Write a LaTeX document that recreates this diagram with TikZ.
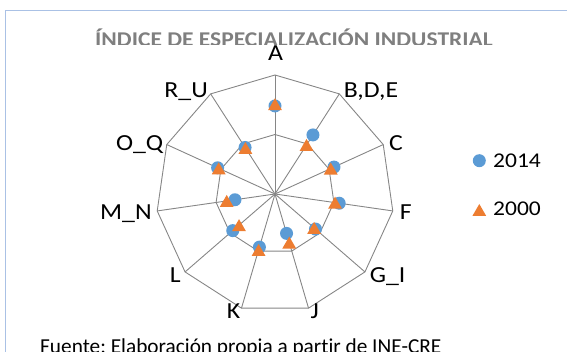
\documentclass[tikz,border=0pt]{standalone}
\usepackage{fontspec}
\setmainfont{Carlito}[FakeStretch=1.12, Ligatures=NoCommon]
\newfontfamily\srcfont{Carlito}[Ligatures=NoCommon]
\usetikzlibrary{positioning,shapes.geometric}
\definecolor{gridgray}{RGB}{134,134,134}
\definecolor{ser14}{RGB}{91,155,213}
\definecolor{ser00}{RGB}{237,125,49}
\definecolor{framebl}{RGB}{170,193,229}
\definecolor{titlegray}{RGB}{127,127,127}
\tikzset{axislab/.style = {font=\fontsize{23}{23}\selectfont, inner sep=0pt},
         leglab/.style = {font=\fontsize{21}{21}\selectfont, inner sep=0pt},
         dot14/.style = {circle, fill=ser14, inner sep=0pt, minimum size=13pt},
         tri00/.style = {regular polygon, regular polygon sides=3, fill=ser00,
                         inner sep=0pt, minimum size=16pt, yshift=-2pt},
         gridline/.style = {gridgray, line width=0.9pt}}
\frenchspacing

\begin{document}
\begin{tikzpicture}[x=1pt,y=1pt]
    \useasboundingbox (-275,-158) rectangle (292,194);
    % chart frame
    \draw[framebl, line width=1.6pt] (-269.5,-175) |- (310,183.3);
    % title, cut by the plot area
    \begin{scope}
        \clip (-275,149) rectangle (292,194);
        \node[font=\bfseries\fontsize{21}{21}\selectfont, text=titlegray, anchor=base, inner sep=0pt]
            (title) at (19,147) {ÍNDICE DE ESPECIALIZACIÓN INDUSTRIAL};
    \end{scope}
    % grid
    \coordinate (c) at (0,0);
    \foreach \k in {0,...,10}{
        \coordinate (o\k) at ({90-\k*360/11}:119);
        \coordinate (i\k) at ({90-\k*360/11}:59.5);
    }
    \draw[gridline] (o0) \foreach \k in {1,...,10}{ -- (o\k)} -- cycle;
    \draw[gridline] (i0) \foreach \k in {1,...,10}{ -- (i\k)} -- cycle;
    \foreach \k in {0,...,10}
        \draw[gridline] (c) -- (o\k);
    % axis labels
    \node[axislab, anchor=base]      (lA)  at (0.6,133.3)   {A};
    \node[axislab, anchor=base west] (lB)  at (68.6,96.7)   {B,D,E};
    \node[axislab, anchor=base west] (lC)  at (113.8,43.3)  {C};
    \node[axislab, anchor=base west] (lF)  at (124.6,-25.3) {F};
    \node[axislab, anchor=base west] (lG)  at (94.6,-88.7)  {G\_I};
    \node[axislab, anchor=base west] (lJ)  at (35.3,-124.3) {J};
    \node[axislab, anchor=base east] (lK)  at (-34.5,-124.3) {K};
    \node[axislab, anchor=base east] (lL)  at (-94.2,-88.7) {L};
    \node[axislab, anchor=base east] (lM)  at (-123.1,-25.3) {M\_N};
    \node[axislab, anchor=base east] (lO)  at (-111.5,43.3) {O\_Q};
    \node[axislab, anchor=base east] (lR)  at (-67,96.7)    {R\_U};
    % series 2014 and 2000
    \foreach \v [count=\k from 0] in {1.48,1.18,1.09,1.09,0.90,0.69,0.93,0.94,0.68,1.06,0.93}
        \node[dot14] (p\k) at ({90-\k*360/11}:{\v*59.5}) {};
    \foreach \v [count=\k from 0] in {1.51,0.98,1.03,1.02,0.87,0.85,0.98,0.80,0.82,1.04,0.92}
        \node[tri00] (q\k) at ({90-\k*360/11}:{\v*59.5}) {};
    % legend
    \node[dot14] (k14) at (204.3,33.3) {};
    \node[leglab, anchor=base west] (t14) at (218,26.7) {2014};
    \node[tri00] (k00) at (204.3,-16) {};
    \node[leglab, anchor=base west] (t00) at (218,-22) {2000};
    % source
    \node[font=\srcfont\fontsize{21.3}{21.3}\selectfont, anchor=base west, inner sep=0pt]
        (src) at (-235,-159.5) {Fuente: Elaboración propia a partir de INE-CRE};
\end{tikzpicture}
\end{document}
